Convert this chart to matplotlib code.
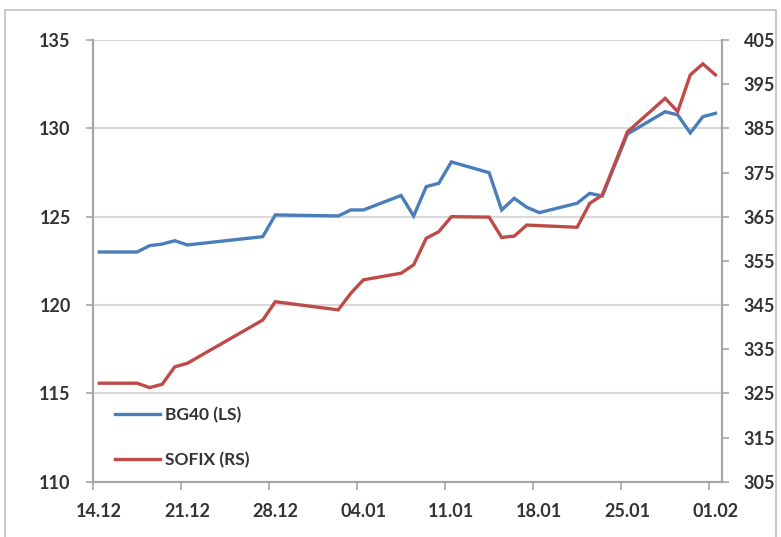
import numpy as np
import matplotlib.pyplot as plt
from matplotlib.patches import Rectangle

# trading days, counted from 14.12.2012
bg40_days = [0, 3, 4, 5, 6, 7, 13, 14, 19, 20, 21, 24, 25, 26, 27, 28,
             31, 32, 33, 34, 35, 38, 39, 40, 42, 45, 46, 47, 48, 49]
bg40 = [123.0, 123.0, 123.36, 123.45, 123.64, 123.4, 123.87, 125.1, 125.04,
        125.38, 125.38, 126.2, 125.04, 126.7, 126.89, 128.1,
        127.49, 125.38, 126.04, 125.53, 125.23, 125.76, 126.32, 126.17,
        129.68, 130.94, 130.76, 129.74, 130.66, 130.85]

sofix_days = [0, 3, 4, 5, 6, 7, 13, 14, 19, 20, 21, 24, 25, 26, 27, 28,
              31, 32, 33, 34, 38, 39, 40, 42, 45, 46, 47, 48, 49]
sofix = [327.3, 327.3, 326.3, 327.05, 331.0, 331.8, 341.6, 345.75, 343.9,
         347.65, 350.7, 352.2, 354.1, 360.1, 361.6, 365.0,
         364.9, 360.3, 360.6, 363.1, 362.6, 368.0, 369.9, 384.2,
         391.8, 388.8, 397.1, 399.6, 397.1]

tick_days = [0, 7, 14, 21, 28, 35, 42, 49]
tick_labels = ['14.12', '21.12', '28.12', '04.01', '11.01', '18.01', '25.01', '01.02']

blue = '#4a7ebb'
red = '#be4b48'
axis_grey = '#a6a6a6'
text_col = '#333333'

plt.rcParams['font.family'] = ['Lato', 'DejaVu Sans']
plt.rcParams['font.weight'] = 'bold'

fig = plt.figure(figsize=(7.81, 5.37), dpi=100)
fig.patches.append(Rectangle((0.0064, -0.05), 0.987, 1.031, transform=fig.transFigure,
                             fill=False, edgecolor='#bfbfbf', linewidth=1.2))
ax = fig.add_axes([0.1191, 0.103, 0.805, 0.8225])
ax2 = ax.twinx()

# points sit in the middle of each day slot
l1, = ax.plot(np.array(bg40_days) + 0.5, bg40, color=blue, lw=2.4,
              solid_joinstyle='miter', label='BG40 (LS)', zorder=3)
l2, = ax2.plot(np.array(sofix_days) + 0.5, sofix, color=red, lw=2.4,
               solid_joinstyle='miter', label='SOFIX (RS)', zorder=3)

ax.set_xlim(0, 50)
ax.set_ylim(110, 135)
ax2.set_ylim(305, 405)
ax.set_yticks(np.arange(110, 136, 5))
ax2.set_yticks(np.arange(305, 406, 10))

ax.set_xticks(tick_days)
ax.set_xticklabels([])
ax.set_xticks(np.array(tick_days) + 0.5, minor=True)
ax.set_xticklabels(tick_labels, minor=True)
ax.tick_params(axis='x', which='major', length=6, width=1.2, color=axis_grey, direction='out')
ax.tick_params(axis='x', which='minor', length=0, pad=15, labelsize=13, labelcolor=text_col)
ax.tick_params(axis='y', length=5, width=1.2, color=axis_grey, pad=11,
               labelsize=13, labelcolor=text_col)
ax2.tick_params(axis='y', length=5, width=1.2, color=axis_grey, pad=11,
                labelsize=13, labelcolor=text_col)

ax.yaxis.grid(True, color='#d9d9d9', lw=1.5)
ax.set_axisbelow(True)
for a in (ax, ax2):
    a.spines['top'].set_visible(False)
    for s in ('left', 'right', 'bottom'):
        a.spines[s].set_color(axis_grey)
        a.spines[s].set_linewidth(1.5)

ax.legend(handles=[l1, l2], loc='lower left', bbox_to_anchor=(0.01, -0.004),
          frameon=False, fontsize=12.5, handlelength=2.6, handletextpad=0.3,
          labelspacing=1.65, labelcolor=text_col)

fig.savefig('out.png', dpi=100)
